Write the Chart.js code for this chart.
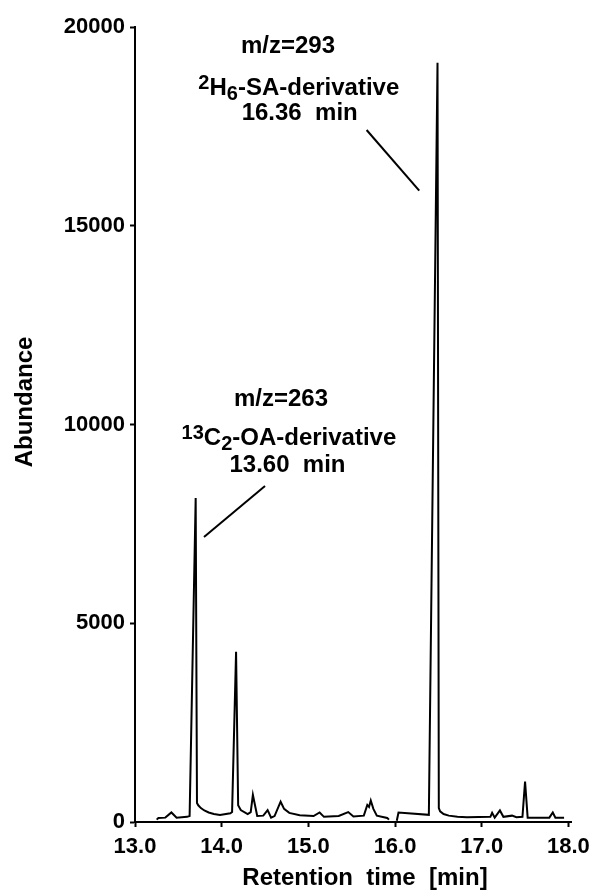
<!DOCTYPE html>
<html>
<head>
<meta charset="utf-8">
<script src="https://cdn.jsdelivr.net/npm/chart.js@4/dist/chart.umd.min.js"></script>
<style>
  html, body { margin: 0; padding: 0; background: #fff; }
  #wrap { width: 597px; height: 891px; }
</style>
</head>
<body>
<div id="wrap"><canvas id="gcChart" width="597" height="891"></canvas></div>
<script>
// --- data ---
const retentionTime = [
    13.25, 13.27, 13.35, 13.42, 13.48, 13.60, 13.63, 13.70, 13.715, 13.73, 13.76, 13.80, 13.85, 13.91,
    13.98, 14.10, 14.12,
    14.166, 14.19, 14.22, 14.30, 14.335, 14.36, 14.41, 14.48, 14.53, 14.57, 14.61, 14.68, 14.72, 14.78,
    14.90, 15.06, 15.13, 15.18, 15.35, 15.46, 15.52, 15.64, 15.68, 15.70, 15.72, 15.75, 15.79, 15.91,
    15.93,
    15.97,
    16.02, 16.04, 16.39, 16.49, 16.505, 16.52, 16.56, 16.62, 16.72, 16.83, 17.10, 17.12, 17.15, 17.21,
    17.25, 17.35, 17.40, 17.47, 17.50, 17.53, 17.78, 17.82, 17.85, 17.95
];
const abundance = [
    60, 100, 110, 240, 110, 130, 150, 8150, 480, 420, 350, 290, 240, 200,
    175, 220, 250,
    4280, 420, 300, 200, 250, 680, 150, 160, 300, 110, 150, 510, 330, 230,
    170, 150, 240, 130, 150, 250, 140, 160, 430, 380, 540, 330, 160, 100,
    60,
    null,
    30, 240, 180, 19100, 350, 270, 200, 160, 130, 120, 130, 230, 110, 290,
    130, 160, 120, 130, 1020, 110, 110, 240, 110, 110
];
const xTicks = [13, 14, 15, 16, 17, 18];
const yTicks = [0, 5000, 10000, 15000, 20000];

const xTitle = 'Retention  time  [min]';
const yTitle = 'Abundance';

// peak labels: [text, 'sup' | 'sub' | ''] pieces
const saLines = [
    [['m/z=293', '']],
    [['2', 'sup'], ['H', ''], ['6', 'sub'], ['-SA-derivative', '']],
    [['16.36  min', '']]
];
const oaLines = [
    [['m/z=263', '']],
    [['13', 'sup'], ['C', ''], ['2', 'sub'], ['-OA-derivative', '']],
    [['13.60  min', '']]
];

const FONT = "'Liberation Sans', Arial, Helvetica, sans-serif";

// where the labels sit, in data units
const labelBlocks = [
    { lines: saLines, at: [[14.765, 19346], [14.89, 18289], [14.90, 17660]],
      pointer: [[15.672, 17409], [16.279, 15882]] },
    { lines: oaLines, at: [[14.684, 10465], [14.776, 9484], [14.759, 8805]],
      pointer: [[14.50, 8453], [13.796, 7170]] }
];

function drawRich(ctx, pieces, cx, baseY) {
    const size = 24;
    const spec = pieces.map(([t, kind]) => {
        const s = kind ? Math.round(size * 0.85) : size;
        ctx.font = 'bold ' + s + 'px ' + FONT;
        return { t, s, w: ctx.measureText(t).width, dy: kind === 'sup' ? -6 : kind === 'sub' ? 5 : 0 };
    });
    const total = spec.reduce((a, p) => a + p.w, 0);
    let x = cx - total / 2;
    ctx.textAlign = 'left';
    ctx.textBaseline = 'alphabetic';
    spec.forEach(p => {
        ctx.font = 'bold ' + p.s + 'px ' + FONT;
        ctx.fillText(p.t, x, baseY + p.dy);
        x += p.w;
    });
}

const annotatePlugin = {
    id: 'annotate',
    afterDraw(chart) {
        const ctx = chart.ctx;
        const xs = chart.scales.x, ys = chart.scales.y;
        ctx.save();
        ctx.fillStyle = '#000';
        ctx.strokeStyle = '#000';
        labelBlocks.forEach(b => {
            b.lines.forEach((ln, i) => {
                drawRich(ctx, ln, xs.getPixelForValue(b.at[i][0]), ys.getPixelForValue(b.at[i][1]));
            });
            ctx.lineWidth = 2;
            ctx.beginPath();
            ctx.moveTo(xs.getPixelForValue(b.pointer[0][0]), ys.getPixelForValue(b.pointer[0][1]));
            ctx.lineTo(xs.getPixelForValue(b.pointer[1][0]), ys.getPixelForValue(b.pointer[1][1]));
            ctx.stroke();
        });

        // axis titles
        ctx.font = 'bold 24px ' + FONT;
        ctx.textAlign = 'center';
        ctx.textBaseline = 'alphabetic';
        ctx.fillText(xTitle, 365, 885);
        ctx.translate(32, 402);
        ctx.rotate(-Math.PI / 2);
        ctx.fillText(yTitle, 0, 0);
        ctx.restore();
    }
};

const ctx = document.getElementById('gcChart').getContext('2d');
new Chart(ctx, {
    type: 'line',
    data: {
        datasets: [{
            data: retentionTime.map((t, i) => ({ x: t, y: abundance[i] })),
            borderColor: '#000',
            borderWidth: 2,
            pointRadius: 0,
            tension: 0,
            spanGaps: false,
            fill: false
        }]
    },
    options: {
        responsive: false,
        animation: false,
        layout: { padding: { top: 27, right: 26, bottom: 0, left: 0 } },
        plugins: { legend: { display: false }, tooltip: { enabled: false } },
        scales: {
            x: {
                type: 'linear',
                min: 13,
                max: 18.03,
                afterBuildTicks: s => { s.ticks = xTicks.map(v => ({ value: v })); },
                afterFit: s => { s.height = 69; },
                grid: { drawOnChartArea: false, drawTicks: true, tickLength: 5, tickWidth: 2, color: '#000' },
                border: { display: true, color: '#000', width: 2 },
                ticks: {
                    color: '#000',
                    padding: 7,
                    maxRotation: 0,
                    font: { family: FONT, size: 22, weight: 'bold' },
                    callback: v => v.toFixed(1)
                }
            },
            y: {
                min: 0,
                max: 20000,
                afterBuildTicks: s => { s.ticks = yTicks.map(v => ({ value: v })); },
                afterFit: s => { s.width = 135; },
                grid: { drawOnChartArea: false, drawTicks: true, tickLength: 5, tickWidth: 2, color: '#000' },
                border: { display: true, color: '#000', width: 2 },
                ticks: {
                    color: '#000',
                    padding: 5,
                    font: { family: FONT, size: 22, weight: 'bold' },
                    callback: v => String(v)
                }
            }
        }
    },
    plugins: [annotatePlugin]
});
</script>
</body>
</html>
